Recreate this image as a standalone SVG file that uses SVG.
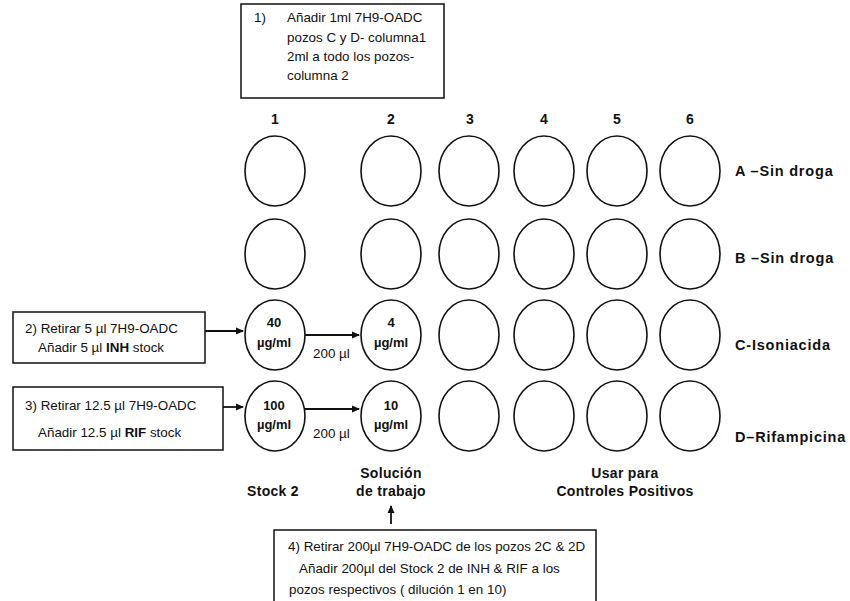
<svg xmlns="http://www.w3.org/2000/svg" width="850" height="601" viewBox="0 0 850 601">
<defs>
<marker id="ah" markerWidth="8" markerHeight="8" refX="7" refY="4" orient="auto" markerUnits="userSpaceOnUse">
<path d="M0,0.5 L8,4 L0,7.5 Z" fill="#111"/>
</marker>
<style>
.box{fill:#fff;stroke:#111;stroke-width:1.5}
.well{fill:#fff;stroke:#111;stroke-width:1.6}
.t{font-family:"Liberation Sans",Arial,sans-serif;font-size:13.4px;fill:#111}
.b{font-family:"Liberation Sans",Arial,sans-serif;font-size:14px;font-weight:bold;fill:#111;letter-spacing:0.3px}
.r{font-family:"Liberation Sans",Arial,sans-serif;font-size:14.5px;font-weight:bold;fill:#111;letter-spacing:0.8px}
.w{font-family:"Liberation Sans",Arial,sans-serif;font-size:13px;font-weight:bold;fill:#111;text-anchor:middle}
.c{stroke:#111;stroke-width:1.8;fill:none}
</style>
</defs>
<rect width="850" height="601" fill="#fff"/>
<g id="step1">
<rect class="box" x="241" y="4" width="203" height="94"/>
<text class="t" x="254" y="22">1)</text>
<text class="t" x="287" y="22">Añadir 1ml 7H9-OADC</text>
<text class="t" x="287" y="42">pozos C y D- columna1</text>
<text class="t" x="287" y="61">2ml a todo los pozos-</text>
<text class="t" x="287" y="80">columna 2</text>
</g>
<g id="colLabels">
<text class="b" x="275" y="124" text-anchor="middle">1</text>
<text class="b" x="391" y="124" text-anchor="middle">2</text>
<text class="b" x="470" y="124" text-anchor="middle">3</text>
<text class="b" x="544" y="124" text-anchor="middle">4</text>
<text class="b" x="617" y="124" text-anchor="middle">5</text>
<text class="b" x="690" y="124" text-anchor="middle">6</text>
</g>
<g id="rowA">
<ellipse class="well" cx="275" cy="171" rx="30" ry="35"/>
<ellipse class="well" cx="391" cy="171" rx="30" ry="35"/>
<ellipse class="well" cx="469" cy="171" rx="30" ry="35"/>
<ellipse class="well" cx="544" cy="171" rx="30" ry="35"/>
<ellipse class="well" cx="617" cy="171" rx="30" ry="35"/>
<ellipse class="well" cx="690" cy="171" rx="30" ry="35"/>
<text class="r" x="735" y="176">A –Sin droga</text>
</g>
<g id="rowB">
<ellipse class="well" cx="275" cy="254" rx="30" ry="35"/>
<ellipse class="well" cx="391" cy="254" rx="30" ry="35"/>
<ellipse class="well" cx="469" cy="254" rx="30" ry="35"/>
<ellipse class="well" cx="544" cy="254" rx="30" ry="35"/>
<ellipse class="well" cx="617" cy="254" rx="30" ry="35"/>
<ellipse class="well" cx="690" cy="254" rx="30" ry="35"/>
<text class="r" x="735" y="263">B –Sin droga</text>
</g>
<g id="rowC">
<ellipse class="well" cx="275" cy="335" rx="30" ry="35"/>
<ellipse class="well" cx="391" cy="335" rx="30" ry="35"/>
<ellipse class="well" cx="469" cy="335" rx="30" ry="35"/>
<ellipse class="well" cx="544" cy="335" rx="30" ry="35"/>
<ellipse class="well" cx="617" cy="335" rx="30" ry="35"/>
<ellipse class="well" cx="690" cy="335" rx="30" ry="35"/>
<text class="w" x="274" y="327">40</text>
<text class="w" x="274" y="347">µg/ml</text>
<text class="w" x="391" y="327">4</text>
<text class="w" x="391" y="347">µg/ml</text>
<text class="r" x="735" y="350">C-Isoniacida</text>
</g>
<g id="rowD">
<ellipse class="well" cx="275" cy="416" rx="30" ry="35"/>
<ellipse class="well" cx="391" cy="416" rx="30" ry="35"/>
<ellipse class="well" cx="469" cy="416" rx="30" ry="35"/>
<ellipse class="well" cx="544" cy="416" rx="30" ry="35"/>
<ellipse class="well" cx="617" cy="416" rx="30" ry="35"/>
<ellipse class="well" cx="690" cy="416" rx="30" ry="35"/>
<text class="w" x="274" y="410">100</text>
<text class="w" x="274" y="429">µg/ml</text>
<text class="w" x="391" y="410">10</text>
<text class="w" x="391" y="429">µg/ml</text>
<text class="r" x="735" y="442">D–Rifampicina</text>
</g>
<g id="step2">
<rect class="box" x="13" y="312" width="192" height="51"/>
<text class="t" x="25" y="333">2) Retirar 5 µl 7H9-OADC</text>
<text class="t" x="38" y="352">Añadir 5 µl <tspan font-weight="bold">INH</tspan> stock</text>
</g>
<g id="step3">
<rect class="box" x="13" y="387" width="210" height="63"/>
<text class="t" x="25" y="410">3) Retirar 12.5 µl 7H9-OADC</text>
<text class="t" x="38" y="437">Añadir 12.5 µl <tspan font-weight="bold">RIF</tspan> stock</text>
</g>
<g id="bottomLabels">
<text class="b" x="273" y="496" text-anchor="middle">Stock 2</text>
<text class="b" x="391" y="478" text-anchor="middle">Solución</text>
<text class="b" x="391" y="496" text-anchor="middle">de trabajo</text>
<text class="b" x="625" y="478" text-anchor="middle">Usar para</text>
<text class="b" x="625" y="496" text-anchor="middle">Controles Positivos</text>
</g>
<g id="step4">
<rect class="box" x="274" y="530" width="322" height="80"/>
<text class="t" x="288" y="551">4) Retirar 200µl 7H9-OADC de los pozos 2C &amp; 2D</text>
<text class="t" x="299" y="573">Añadir 200µl del Stock 2 de  INH &amp; RIF a los</text>
<text class="t" x="289" y="594">pozos respectivos ( dilución 1 en 10)</text>
</g>
<g id="connectors">
<line class="c" x1="205" y1="331" x2="243" y2="331" marker-end="url(#ah)"/>
<line class="c" x1="223" y1="407" x2="243" y2="407" marker-end="url(#ah)"/>
<line class="c" x1="305" y1="335" x2="359" y2="335" marker-end="url(#ah)"/>
<line class="c" x1="305" y1="409" x2="359" y2="409" marker-end="url(#ah)"/>
<line class="c" x1="391" y1="524" x2="391" y2="506" marker-end="url(#ah)"/>
<text class="t" x="313" y="358">200 µl</text>
<text class="t" x="313" y="438">200 µl</text>
</g>
</svg>
